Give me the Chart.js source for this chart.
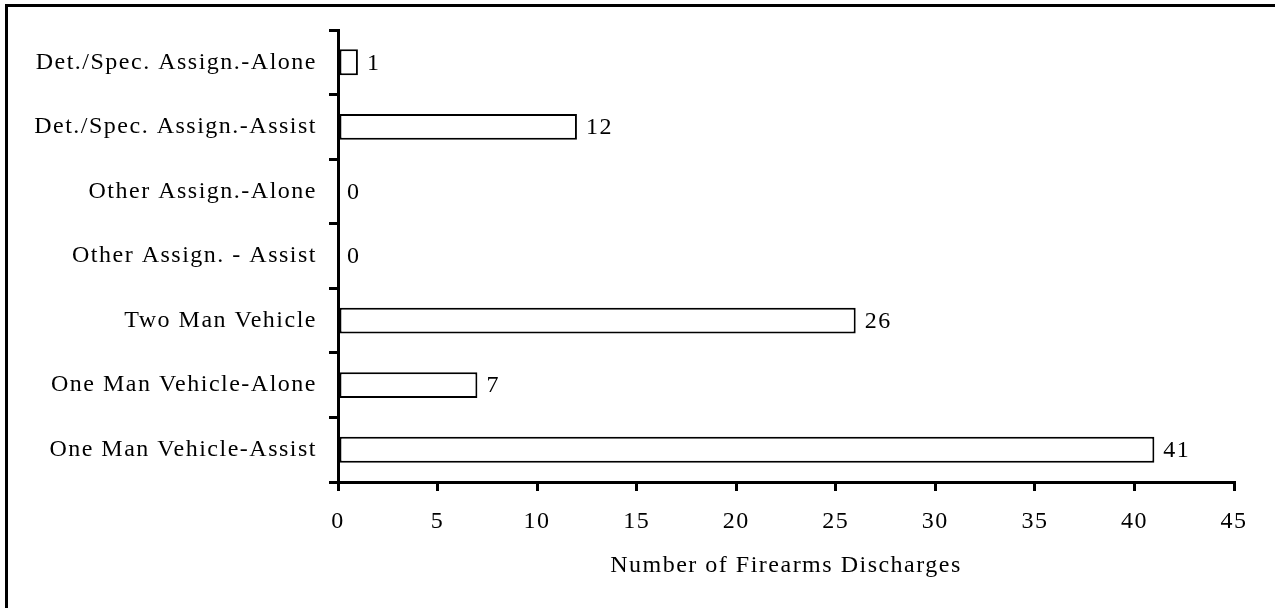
<!DOCTYPE html>
<html>
<head>
<meta charset="utf-8">
<script src="https://cdn.jsdelivr.net/npm/chart.js@4/dist/chart.umd.min.js"></script>
<style>
  html, body { margin: 0; padding: 0; background: #fff; }
  #wrap { width: 1275px; height: 608px; }
</style>
</head>
<body>
<div id="wrap"><canvas id="myChart" width="1275" height="608"></canvas></div>
<script>
let categories = [
    "Det./Spec. Assign.-Alone",
    "Det./Spec. Assign.-Assist",
    "Other Assign.-Alone",
    "Other Assign. - Assist",
    "Two Man Vehicle",
    "One Man Vehicle-Alone",
    "One Man Vehicle-Assist"
];
let discharges = [1, 12, 0, 0, 26, 7, 41];
let xTicks = [0, 5, 10, 15, 20, 25, 30, 35, 40, 45];
let xTitle = "Number of Firearms Discharges";

let serif = "'Liberation Serif', 'Times New Roman', serif";
let fontSize = 24;
let spacing = '1.5px';

// the original text is set a bit wide
let spacingPlugin = {
    id: 'spacing',
    beforeDraw(chart) {
        chart.ctx.letterSpacing = spacing;
    }
};

// frame on the top and left edge
let framePlugin = {
    id: 'frame',
    afterDraw(chart) {
        let c = chart.ctx;
        c.save();
        c.strokeStyle = '#000';
        c.lineWidth = 3;
        c.beginPath();
        c.moveTo(6.5, 608);
        c.lineTo(6.5, 5.5);
        c.lineTo(1275, 5.5);
        c.stroke();
        c.restore();
    }
};

// value next to each bar
let valueLabels = {
    id: 'valueLabels',
    afterDatasetsDraw(chart) {
        let c = chart.ctx;
        let meta = chart.getDatasetMeta(0);
        c.save();
        c.font = fontSize + "px " + serif;
        c.fillStyle = '#000';
        c.textAlign = 'left';
        c.textBaseline = 'middle';
        meta.data.forEach(function(bar, i) {
            c.fillText(String(discharges[i]), bar.x + 9, bar.y + 1);
        });
        c.restore();
    }
};

let ctx = document.getElementById('myChart').getContext('2d');
let chart = new Chart(ctx, {
    type: 'bar',
    data: {
        labels: categories,
        datasets: [{
            data: discharges,
            backgroundColor: '#fff',
            borderColor: '#000',
            borderWidth: 2,
            borderSkipped: false,
            barPercentage: 0.4,
            categoryPercentage: 1.0
        }]
    },
    options: {
        indexAxis: 'y',
        responsive: false,
        animation: false,
        devicePixelRatio: 1,
        layout: { padding: { top: 30, right: 41, left: 0, bottom: 0 } },
        plugins: {
            legend: { display: false },
            tooltip: { enabled: false }
        },
        scales: {
            x: {
                min: 0,
                max: 45,
                afterBuildTicks(scale) {
                    scale.ticks = xTicks.map(v => ({ value: v }));
                },
                afterFit(scale) { scale.height = 126; },
                grid: {
                    drawOnChartArea: false,
                    drawTicks: true,
                    tickLength: 9,
                    color: '#000',
                    lineWidth: 3
                },
                border: { display: true, color: '#000', width: 3 },
                ticks: {
                    color: '#000',
                    padding: 16,
                    maxRotation: 0,
                    font: { family: serif, size: fontSize }
                },
                title: {
                    display: true,
                    text: xTitle,
                    color: '#000',
                    font: { family: serif, size: fontSize },
                    padding: { top: 0, bottom: 28 }
                }
            },
            y: {
                afterFit(scale) { scale.width = 338; },
                grid: {
                    offset: true,
                    drawOnChartArea: false,
                    drawTicks: true,
                    tickLength: 9,
                    color: '#000',
                    lineWidth: 3
                },
                border: { display: true, color: '#000', width: 3 },
                ticks: {
                    color: '#000',
                    padding: 12,
                    font: { family: serif, size: fontSize }
                }
            }
        }
    },
    plugins: [spacingPlugin, framePlugin, valueLabels]
});
</script>
</body>
</html>
